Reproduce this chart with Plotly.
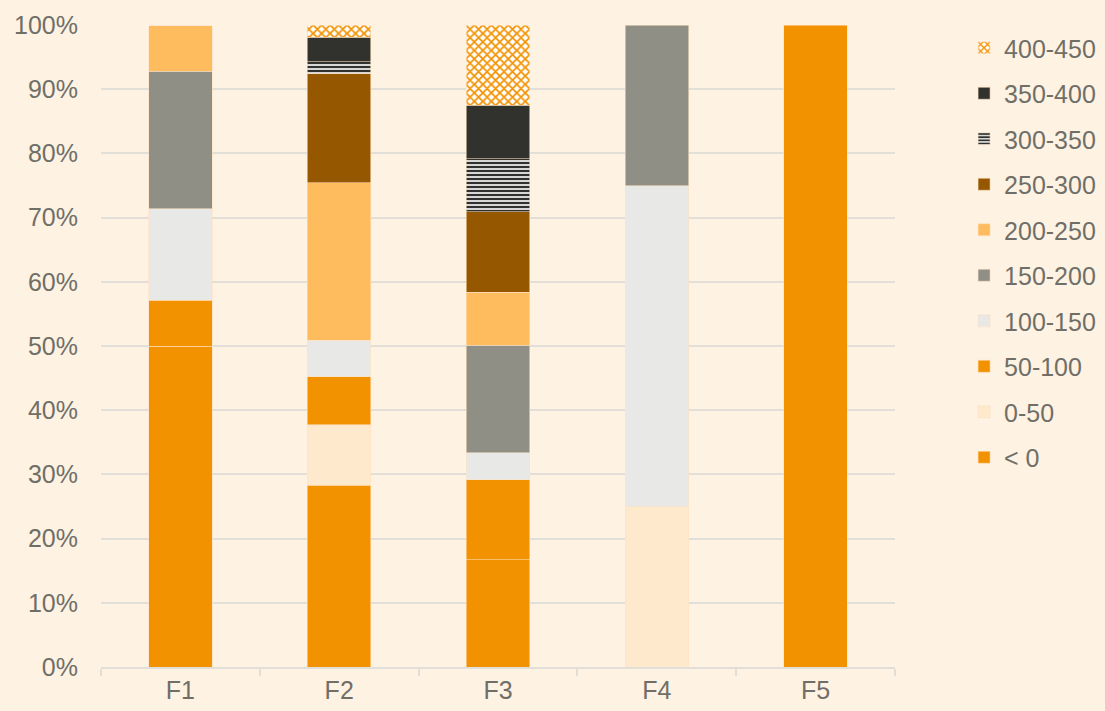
import plotly.graph_objects as go

categories = ["F1", "F2", "F3", "F4", "F5"]
series_names = ["< 0", "0-50", "50-100", "100-150", "150-200",
                "200-250", "250-300", "300-350", "350-400", "400-450"]

# percentage share of each band per category (None = absent)
s_lt0     = [50.0, 28.3, 16.7, None, 100.0]
s_0_50    = [None, 9.4, None, 25.0, None]
s_50_100  = [7.1, 7.5, 12.5, None, None]
s_100_150 = [14.3, 5.7, 4.2, 50.0, None]
s_150_200 = [21.4, None, 16.7, 25.0, None]
s_200_250 = [7.1, 24.5, 8.3, None, None]
s_250_300 = [None, 17.0, 12.5, None, None]
s_300_350 = [None, 1.9, 8.3, None, None]
s_350_400 = [None, 3.8, 8.3, None, None]
s_400_450 = [None, 1.9, 12.5, None, None]

series_values = [s_lt0, s_0_50, s_50_100, s_100_150, s_150_200,
                 s_200_250, s_250_300, s_300_350, s_350_400, s_400_450]

y_ticks = [0, 10, 20, 30, 40, 50, 60, 70, 80, 90, 100]
y_tick_labels = [f"{v}%" for v in y_ticks]

colors = ["#F39200", "#FFE9CC", "#F39200", "#E8E8E6", "#908F86",
          "#FFBC5E", "#955700", "#31322D", "#31322D", "#F39200"]

BG = "#FEF2E3"
TXT = "#706F67"
GRID = "#E2DED8"
FS = 25

fig = go.Figure()
n = len(series_names)
for i, (name, vals) in enumerate(zip(series_names, series_values)):
    outline = dict(color="rgba(255,225,190,0.7)", width=0.8)
    marker = dict(color=colors[i], line=outline)
    if name == "300-350":
        marker = dict(color="#FFFFFF", line=outline,
                      pattern=dict(shape="-", fgcolor="#31322D", bgcolor="#FFFFFF",
                                   fgopacity=1, size=4, solidity=0.6,
                                   fillmode="overlay"))
    if name == "400-450":
        marker = dict(color="#FFFFFF", line=outline,
                      pattern=dict(shape="x", fgcolor="#F39200", bgcolor="#FFFFFF",
                                   fgopacity=1, size=6, solidity=0.5,
                                   fillmode="overlay"))
    fig.add_trace(go.Bar(x=categories, y=vals, name=name, marker=marker,
                         legendgroup=name, legendrank=100 + (n - i)))

fig.update_layout(
    barmode="stack",
    bargap=0.6,
    width=1105, height=711,
    margin=dict(l=101, r=210, t=25, b=44, autoexpand=False),
    paper_bgcolor=BG, plot_bgcolor=BG,
    font=dict(family="Liberation Sans, Arial, sans-serif", color=TXT, size=FS),
    showlegend=True,
    legend=dict(traceorder="grouped", tracegroupgap=10,
                x=1.087, xanchor="left", y=1.0, yanchor="top",
                font=dict(size=FS, color=TXT), bgcolor="rgba(0,0,0,0)",
                itemwidth=30),
    xaxis=dict(showline=True, linecolor=GRID, linewidth=2,
               ticks="outside", tickson="boundaries", ticklen=7,
               tickcolor=GRID, tickwidth=2, automargin=False,
               tickfont=dict(size=FS, color=TXT), showgrid=False),
    yaxis=dict(range=[0, 100], tickmode="array", tickvals=y_ticks,
               ticktext=y_tick_labels, automargin=False,
               showgrid=True, gridcolor=GRID, gridwidth=2,
               zeroline=False, tickfont=dict(size=FS, color=TXT),
               ticklabelstandoff=22),
)

fig.write_html("out.html")
